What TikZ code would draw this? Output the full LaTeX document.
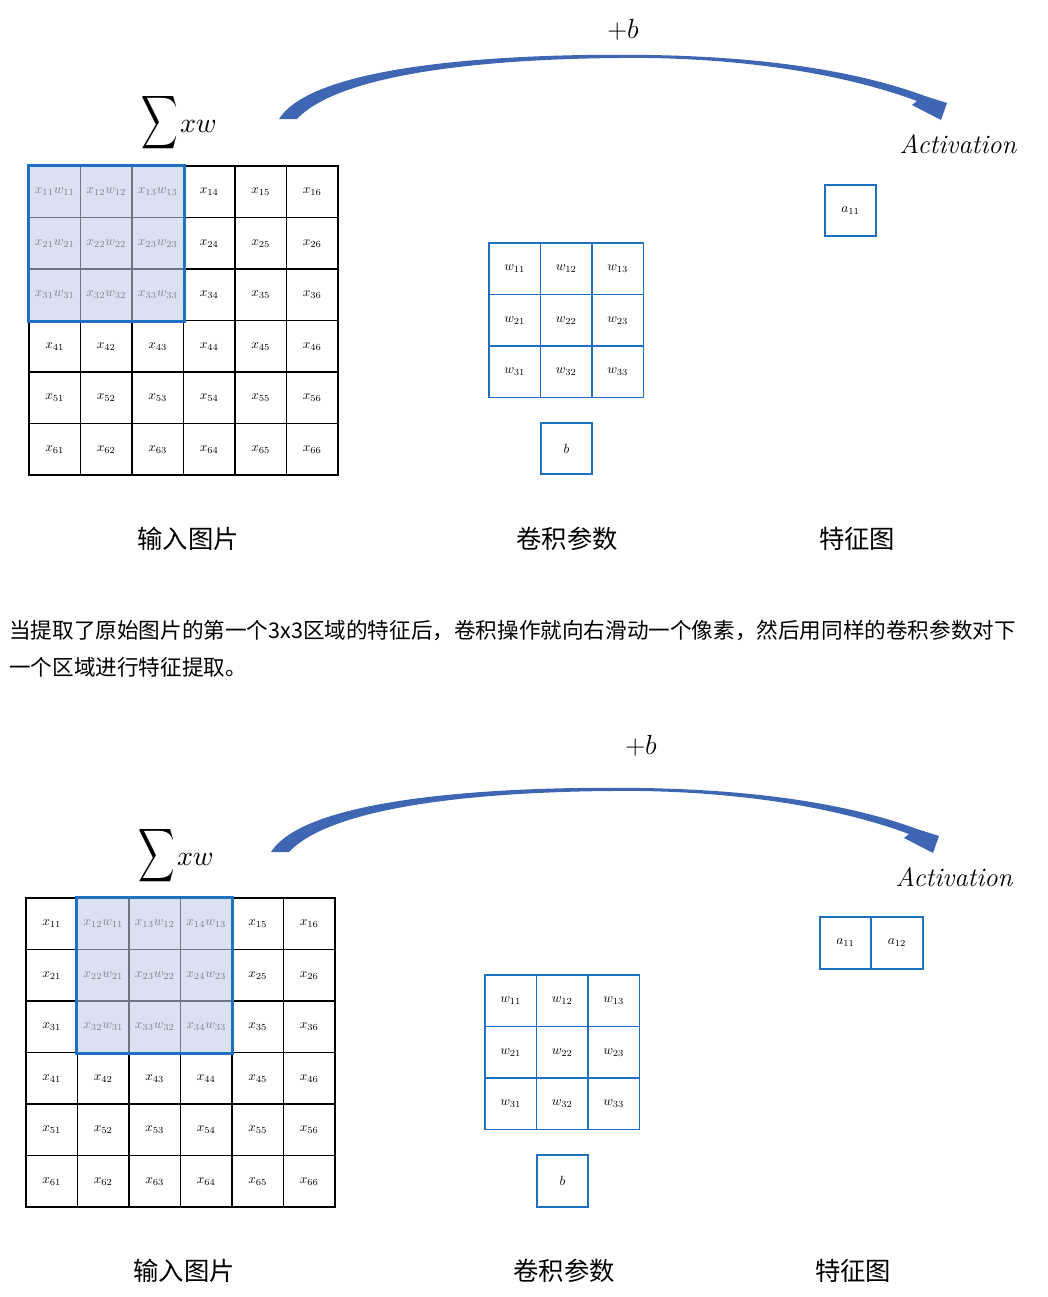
\documentclass[tikz,border=0pt]{standalone}
\usepackage{amsmath}
\usepackage{graphicx}
\usepackage{fontspec}
\newfontfamily\cjk{Noto Sans CJK SC}
\usetikzlibrary{positioning,calc}
\definecolor{gridblue}{HTML}{1F70C1}
\definecolor{hlfill}{HTML}{D9E1F2}
\definecolor{hlline}{HTML}{6F7480}
\definecolor{hltext}{HTML}{7F8088}
\definecolor{arrowblue}{HTML}{3F66B3}
\newcommand{\sumxw}{\scalebox{1.9}[2.8]{$\displaystyle\sum$}\,\scalebox{2.1}{$xw$}}
\tikzset{
  cell/.style    ={rectangle, draw, line width=1.1pt, minimum size=38.6pt,
                   inner sep=0pt, font=\normalsize},
  xcell/.style   ={cell, draw=black},
  hcell/.style   ={cell, draw=hlline, fill=hlfill, text=hltext, line width=1pt},
  wcell/.style   ={cell, draw=gridblue, line width=1.3pt},
  winframe/.style={draw=gridblue, line width=2.2pt},
  cnlbl/.style   ={font=\cjk\fontsize{19}{22}\selectfont, inner sep=0pt},
  sumlbl/.style  ={inner sep=0pt},
  oplbl/.style   ={font=\fontsize{20}{24}\selectfont, inner sep=0pt},
  bigarrow/.style={fill=arrowblue},
}

\begin{document}
\begin{tikzpicture}[x=0.75pt,y=-0.75pt]
\useasboundingbox (0,0) rectangle (1048,1297);

% --- step one: window on columns 1-3 --------------------------------
\foreach \row/\cols in {1/{4,5,6},2/{4,5,6},3/{4,5,6},4/{1,...,6},5/{1,...,6},6/{1,...,6}}
  \foreach \col in \cols
    \node[xcell] (tx\row\col) at ({3.25+51.5*\col},{140.25+51.5*\row}) {$x_{\row\col}$};
\foreach \row in {1,2,3}
  \foreach \col in {1,2,3}
    \node[hcell] (tx\row\col) at ({3.25+51.5*\col},{140.25+51.5*\row}) {$x_{\row\col}w_{\row\col}$};
\draw[winframe] (tx11.north west) rectangle (tx33.south east);

\foreach \row in {1,2,3}
  \foreach \col in {1,2,3}
    \node[wcell] (tw\row\col) at ({463.25+51.5*\col},{217.25+51.5*\row}) {$w_{\row\col}$};
\node[wcell] (tb)   at (566.5,448.5) {$b$};
\node[wcell] (ta11) at (850.5,210.5) {$a_{11}$};

\node[sumlbl] (tsum) at (179,123) {\sumxw};
\node[oplbl]  (tplus) at (623,30) {$+b$};
\node[oplbl]  (tact)  at (958,144) {\itshape Activation};
\fill[bigarrow] (279,119) .. controls (315,62) and (520,53) .. (650,55)
  .. controls (770,57) and (860,72) .. (925,96) -- (947,103) -- (941,120)
  -- (912,105) -- (917,101) .. controls (855,78) and (765,60) .. (650,58)
  .. controls (520,57) and (345,68) .. (297,119) -- cycle;

\node[cnlbl] (tlin) at (188,539) {输入图片};
\node[cnlbl] (tlw)  at (567,539) {卷积参数};
\node[cnlbl] (tla)  at (857,539) {特征图};

% --- the text between the two steps ----------------------------------
\node[font=\cjk\fontsize{16.2}{27.75}\selectfont, anchor=west, align=left, inner sep=0pt]
  (note) at (9,648.5)
  {当提取了原始图片的第一个3x3区域的特征后，卷积操作就向右滑动一个像素，然后用同样的卷积参数对下\\一个区域进行特征提取。};

% --- step two: window on columns 2-4 --------------------------------
\foreach \row/\cols in {1/{1,5,6},2/{1,5,6},3/{1,5,6},4/{1,...,6},5/{1,...,6},6/{1,...,6}}
  \foreach \col in \cols
    \node[xcell] (bx\row\col) at ({0.25+51.5*\col},{872.25+51.5*\row}) {$x_{\row\col}$};
\foreach \row in {1,2,3}
  \foreach \col/\wcol in {2/1,3/2,4/3}
    \node[hcell] (bx\row\col) at ({0.25+51.5*\col},{872.25+51.5*\row}) {$x_{\row\col}w_{\row\wcol}$};
\draw[winframe] (bx12.north west) rectangle (bx34.south east);

\foreach \row in {1,2,3}
  \foreach \col in {1,2,3}
    \node[wcell] (bw\row\col) at ({459.25+51.5*\col},{949.25+51.5*\row}) {$w_{\row\col}$};
\node[wcell] (bb)   at (562.5,1181) {$b$};
\node[wcell] (ba11) at (845.5,943) {$a_{11}$};
\node[wcell] (ba12) at (897,943)   {$a_{12}$};

\node[sumlbl] (bsum)  at (176,856) {\sumxw};
\node[oplbl]  (bplus) at (641,746) {$+b$};
\node[oplbl]  (bact)  at (954,877) {\itshape Activation};
\begin{scope}[shift={(-8,733)}]
\fill[bigarrow] (279,119) .. controls (315,62) and (520,53) .. (650,55)
  .. controls (770,57) and (860,72) .. (925,96) -- (947,103) -- (941,120)
  -- (912,105) -- (917,101) .. controls (855,78) and (765,60) .. (650,58)
  .. controls (520,57) and (345,68) .. (297,119) -- cycle;
\end{scope}

\node[cnlbl] (blin) at (184,1271) {输入图片};
\node[cnlbl] (blw)  at (564,1271) {卷积参数};
\node[cnlbl] (bla)  at (853,1271) {特征图};
\end{tikzpicture}
\end{document}
